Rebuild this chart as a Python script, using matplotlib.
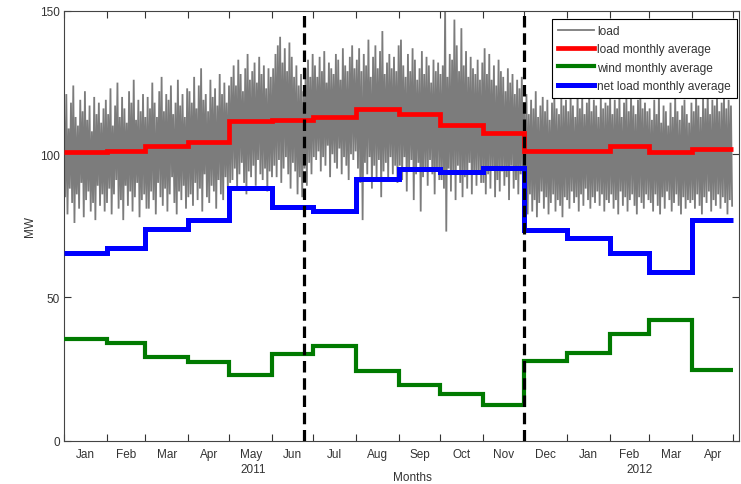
import numpy as np
import matplotlib
matplotlib.use("Agg")
import matplotlib.pyplot as plt
from matplotlib.transforms import blended_transform_factory

plt.rcParams['font.family'] = ['Liberation Sans', 'DejaVu Sans']

# ---------------- data ----------------
month_edges = [0, 31, 59, 90, 120, 151, 181, 212, 243, 273, 304, 334,
               365, 396, 425, 456, 486]          # days since 1 Jan 2011
month_labels = ['Jan', 'Feb', 'Mar', 'Apr', 'May', 'Jun', 'Jul', 'Aug',
                'Sep', 'Oct', 'Nov', 'Dec', 'Jan', 'Feb', 'Mar', 'Apr']
year_labels = ['2011', '2012']
year_label_days = [137, 418]

load_avg = [100.8, 101.3, 103.0, 104.2, 111.5, 112.1, 113.1, 115.9,
            113.9, 110.2, 107.5, 101.3, 101.3, 102.8, 100.7, 101.9]
wind_avg = [35.4, 34.2, 29.2, 27.3, 23.0, 30.4, 33.1, 24.3,
            19.3, 16.4, 12.5, 27.7, 30.7, 37.4, 42.1, 24.8]
net_avg = [65.4, 67.2, 74.0, 77.0, 88.3, 81.7, 80.2, 91.5,
           94.8, 93.8, 95.2, 73.5, 70.8, 65.4, 59.0, 77.1]

dashed_days = [174, 334]

# load: successive peaks and troughs (MW), 18 of each per month
load_peaks = [
    116, 121, 109, 118, 124, 113, 110, 119, 115, 122, 112, 117, 108, 120, 114, 118, 111, 116,  # Jan 2011
    119, 114, 123, 110, 117, 125, 113, 120, 116, 111, 122, 118, 126, 112, 119, 115, 121, 113,  # Feb
    120, 116, 125, 118, 113, 122, 127, 115, 121, 119, 124, 114, 118, 126, 117, 121, 113, 123,  # Mar
    122, 118, 127, 116, 124, 130, 119, 121, 115, 126, 120, 123, 117, 128, 121, 125, 118, 124,  # Apr
    127, 131, 124, 133, 128, 122, 130, 135, 126, 129, 132, 125, 134, 128, 131, 123, 130, 127,  # May
    130, 135, 138, 141, 132, 137, 129, 139, 134, 127, 131, 124, 128, 122, 130, 133, 127, 135,  # Jun
    131, 127, 134, 129, 136, 125, 132, 130, 128, 135, 133, 126, 137, 131, 129, 134, 138, 130,  # Jul
    133, 137, 129, 135, 131, 140, 127, 134, 138, 130, 136, 143, 128, 132, 135, 130, 134, 129,  # Aug
    138, 140, 131, 127, 135, 129, 137, 133, 126, 130, 136, 128, 134, 131, 125, 133, 129, 132,  # Sep
    128, 131, 152, 127, 135, 133, 147, 138, 129, 144, 131, 136, 127, 134, 130, 128, 133, 126,  # Oct
    132, 137, 128, 135, 126, 131, 124, 133, 129, 127, 122, 130, 125, 128, 121, 126, 123, 127,  # Nov
    118, 121, 114, 119, 116, 122, 113, 117, 120, 115, 119, 112, 118, 121, 116, 114, 120, 117,  # Dec
    119, 115, 121, 117, 113, 122, 116, 120, 114, 118, 121, 115, 119, 117, 113, 120, 116, 118,  # Jan 2012
    117, 121, 114, 119, 116, 122, 113, 118, 120, 115, 121, 117, 114, 119, 122, 116, 118, 115,  # Feb
    116, 112, 119, 114, 121, 111, 117, 115, 110, 118, 113, 120, 115, 112, 117, 119, 114, 111,  # Mar
    118, 115, 121, 117, 113, 120, 116, 122, 114, 119, 117, 121, 115, 118, 120, 116, 119, 117,  # Apr
]
load_troughs = [
    85, 79, 88, 83, 76, 86, 81, 90, 78, 84, 87, 80, 83, 77, 89, 82, 86, 80,
    83, 88, 79, 86, 91, 81, 84, 77, 89, 82, 87, 80, 85, 90, 78, 84, 86, 81,
    81, 87, 84, 79, 90, 85, 82, 88, 80, 86, 92, 83, 79, 87, 84, 89, 81, 85,
    86, 82, 90, 84, 88, 80, 93, 85, 83, 89, 87, 81, 91, 86, 84, 92, 88, 90,
    91, 95, 88, 93, 97, 90, 86, 94, 92, 96, 89, 98, 93, 91, 95, 87, 94, 92,
    96, 92, 98, 90, 95, 99, 93, 88, 97, 94, 86, 92, 85, 95, 89, 97, 93, 99,
    98, 101, 94, 99, 96, 103, 92, 100, 97, 95, 102, 93, 99, 96, 91, 100, 98, 101,
    95, 90, 77, 97, 93, 99, 88, 96, 92, 98, 85, 94, 97, 91, 99, 93, 96, 90,
    96, 91, 99, 87, 94, 98, 84, 93, 97, 80, 92, 95, 89, 98, 93, 86, 95, 91,
    91, 88, 73, 95, 87, 93, 84, 96, 90, 85, 92, 88, 97, 86, 93, 89, 94, 90,
    90, 86, 93, 88, 95, 85, 91, 87, 94, 89, 92, 84, 96, 88, 91, 86, 93, 89,
    82, 79, 86, 80, 84, 78, 83, 87, 81, 85, 79, 83, 86, 80, 84, 82, 78, 85,
    84, 81, 87, 83, 85, 80, 86, 82, 88, 84, 81, 85, 83, 87, 82, 86, 80, 84,
    83, 86, 81, 84, 79, 87, 82, 85, 80, 84, 86, 82, 79, 85, 83, 81, 86, 84,
    83, 80, 86, 82, 79, 85, 81, 87, 84, 80, 83, 86, 82, 79, 85, 81, 84, 83,
    84, 81, 86, 82, 79, 85, 83, 87, 80, 84, 82, 86, 81, 85, 83, 79, 84, 82,
]

# ---------------- figure ----------------
fig = plt.figure(figsize=(7.41, 4.85), dpi=100)
ax = fig.add_axes([64 / 741, 1 - 441.7 / 485, (739 - 64) / 741, (441.7 - 12) / 485])

load = np.empty(2 * len(load_peaks))
load[0::2] = load_peaks
load[1::2] = load_troughs
load_days = np.linspace(0, month_edges[-1] - 1, len(load))

ax.plot(load_days, load, color='#7c7c7c', lw=1.3, label='load', zorder=2,
        solid_joinstyle='miter')
ax.stairs(load_avg, month_edges, baseline=None, color='#ff0000', lw=3.4,
          label='load monthly average', zorder=3)
ax.stairs(wind_avg, month_edges, baseline=None, color='#007a00', lw=3.0,
          label='wind monthly average', zorder=3)
ax.stairs(net_avg, month_edges, baseline=None, color='#0000ff', lw=3.6,
          label='net load monthly average', zorder=3)
for d in dashed_days:
    ax.axvline(d, color='black', lw=2.3, ls=(0, (3.6, 1.8)), zorder=4)

ax.set_xlim(0, 490)
ax.set_ylim(0, 150)

text_color = '#333333'
ax.set_xticks(month_edges)
ax.set_xticklabels([])
centers = [(month_edges[i] + month_edges[i + 1]) / 2 for i in range(len(month_labels))]
ax.set_xticks(centers, minor=True)
ax.set_xticklabels(month_labels, minor=True)
ax.set_yticks([0, 50, 100, 150])
ax.tick_params(axis='both', which='major', direction='in', length=5, width=0.8,
               top=True, right=True, color='#333333', labelsize=8.5,
               labelcolor=text_color, pad=3)
ax.tick_params(axis='x', which='minor', length=0, labelsize=8.5,
               labelcolor=text_color, pad=5)
for s in ax.spines.values():
    s.set_color('#444444')
    s.set_linewidth(0.8)

trans = blended_transform_factory(ax.transData, ax.transAxes)
for lab, d in zip(year_labels, year_label_days):
    ax.text(d, -0.066, lab, transform=trans, ha='center', va='center',
            fontsize=8.5, color=text_color)

ax.set_xlabel('Months', fontsize=8.5, color=text_color)
ax.xaxis.set_label_coords((412 - 64) / 675, -0.071)
ax.set_ylabel('MW', fontsize=8.5, color=text_color)
ax.yaxis.set_label_coords((36 - 64) / 675, 0.5)

leg = ax.legend(loc='upper right', bbox_to_anchor=(0.997, 0.981),
                borderaxespad=0, fontsize=8.6, frameon=True, fancybox=False,
                edgecolor='black', framealpha=1, handlelength=3.0,
                handletextpad=0.3, labelspacing=0.52, borderpad=0.5)
leg.get_frame().set_linewidth(0.8)
for t in leg.get_texts():
    t.set_color(text_color)
leg.set_zorder(10)

fig.savefig('out.png', dpi=100)
